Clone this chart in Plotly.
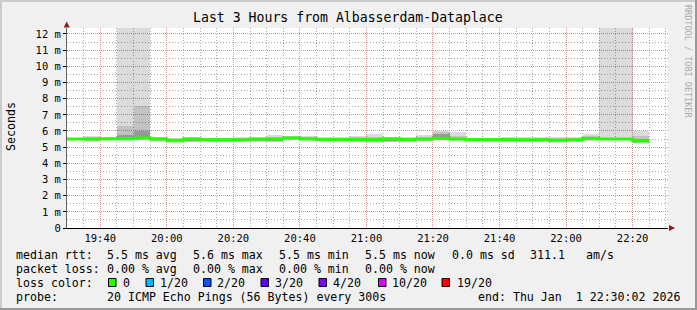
import plotly.graph_objects as go

# ---------------- data (milliseconds) ----------------
bin_times = ["19:30", "19:35", "19:40", "19:45", "19:50", "19:55", "20:00", "20:05", "20:10",
             "20:15", "20:20", "20:25", "20:30", "20:35", "20:40", "20:45", "20:50", "20:55",
             "21:00", "21:05", "21:10", "21:15", "21:20", "21:25", "21:30", "21:35", "21:40",
             "21:45", "21:50", "21:55", "22:00", "22:05", "22:10", "22:15", "22:20"]
last_end = "22:25"

median = [5.50, 5.50, 5.52, 5.52, 5.57, 5.50, 5.42, 5.50, 5.46, 5.46, 5.46, 5.50, 5.50, 5.57,
          5.52, 5.48, 5.48, 5.47, 5.46, 5.52, 5.48, 5.50, 5.55, 5.50, 5.48, 5.48, 5.48, 5.46,
          5.46, 5.43, 5.46, 5.53, 5.50, 5.50, 5.40]
smoke_min = [5.42, 5.30, 5.42, 5.42, 5.45, 5.32, 5.24, 5.30, 5.35, 5.33, 5.32, 5.32, 5.30, 5.45,
             5.40, 5.38, 5.38, 5.35, 5.23, 5.32, 5.30, 5.36, 5.42, 5.40, 5.42, 5.34, 5.34, 5.30,
             5.32, 5.28, 5.30, 5.38, 5.42, 5.42, 5.20]
smoke_lo = [5.45, 5.38, 5.45, 5.45, 5.48, 5.40, 5.30, 5.33, 5.38, 5.38, 5.36, 5.36, 5.33, 5.48,
            5.44, 5.42, 5.42, 5.40, 5.32, 5.34, 5.36, 5.40, 5.46, 5.44, 5.45, 5.36, 5.36, 5.36,
            5.36, 5.34, 5.36, 5.44, 5.46, 5.46, 5.25]
core_lo = [5.47, 5.45, 5.47, 5.48, 5.52, 5.45, 5.36, 5.38, 5.40, 5.40, 5.40, 5.40, 5.36, 5.52,
           5.47, 5.45, 5.45, 5.44, 5.40, 5.36, 5.42, 5.45, 5.50, 5.46, 5.46, 5.38, 5.38, 5.42,
           5.42, 5.38, 5.40, 5.48, 5.48, 5.48, 5.30]
core_hi = [5.53, 5.55, 5.56, 5.75, 6.00, 5.55, 5.48, 5.55, 5.52, 5.52, 5.52, 5.55, 5.55, 5.62,
           5.56, 5.52, 5.52, 5.52, 5.55, 5.55, 5.52, 5.56, 5.80, 5.55, 5.52, 5.52, 5.52, 5.52,
           5.52, 5.50, 5.52, 5.62, 5.54, 5.54, 5.50]
smoke_hi = [5.56, 5.62, 5.58, 6.30, 7.55, 5.60, 5.52, 5.58, 5.55, 5.55, 5.56, 5.58, 5.62, 5.66,
            5.60, 5.56, 5.56, 5.60, 5.65, 5.58, 5.56, 5.64, 5.92, 5.70, 5.55, 5.55, 5.55, 5.58,
            5.56, 5.55, 5.56, 5.72, 5.58, 5.58, 5.70]
smoke_max = [5.58, 5.70, 5.60, 14.0, 14.0, 5.65, 5.55, 5.62, 5.58, 5.58, 5.60, 5.62, 5.77, 5.70,
             5.66, 5.62, 5.62, 5.70, 5.81, 5.62, 5.60, 5.77, 6.02, 5.94, 5.58, 5.58, 5.60, 5.62,
             5.60, 5.60, 5.60, 5.81, 14.0, 14.0, 5.98]

y_tick_vals = [0, 1, 2, 3, 4, 5, 6, 7, 8, 9, 10, 11, 12]
y_tick_text = ["0", "1 m", "2 m", "3 m", "4 m", "5 m", "6 m", "7 m", "8 m", "9 m", "10 m", "11 m", "12 m"]
y_minor_vals = [0.5, 1.5, 2.5, 3.5, 4.5, 5.5, 6.5, 7.5, 8.5, 9.5, 10.5, 11.5]

loss_labels = ["0", "1/20", "2/20", "3/20", "4/20", "10/20", "19/20"]
loss_colors = ["#26ff00", "#00b8ff", "#0059ff", "#5e00ff", "#7e00ff", "#dd00ff", "#ff0000"]

day = "2026-01-01 "
xs = [day + t + ":00" for t in bin_times]
x_line = xs + [day + last_end + ":00"]
y_line = median + [median[-1]]

MONO = "DejaVu Sans Mono"
fig = go.Figure()

def band(lo, hi, color):
    fig.add_trace(go.Bar(
        x=xs, base=lo, y=[h - l for l, h in zip(lo, hi)],
        width=300000, offset=0, marker=dict(color=color, line=dict(width=0)),
        hoverinfo="skip", showlegend=False))

LIGHT = "rgba(0,0,0,0.14)"
MID = "rgba(0,0,0,0.24)"
DARK = "rgba(0,0,0,0.40)"
band(smoke_min, smoke_lo, LIGHT)
band(smoke_lo, core_lo, MID)
band(core_lo, core_hi, DARK)
band(core_hi, smoke_hi, MID)
band(smoke_hi, smoke_max, LIGHT)

fig.add_trace(go.Scatter(x=x_line, y=y_line, mode="lines", line=dict(color=loss_colors[0], width=3, shape="hv"),
                         hoverinfo="skip", showlegend=False))

# ---------------- layout ----------------
W, H = 697, 310
L, R, T, B = 67, 29, 28, 82
PW, PH = W - L - R, H - T - B

def px(x):
    return (x - L) / PW

def py(y):
    return (H - B - y) / PH

anns = []
shapes = []

def txt(x, y, s, size=11.6, color="#000", anchor="left", angle=0):
    anns.append(dict(x=px(x), y=py(y), xref="paper", yref="paper", text=s.replace(" ", "\u00a0"),
                     showarrow=False, xanchor=anchor, yanchor="middle", textangle=angle,
                     borderpad=0, borderwidth=0,
                     font=dict(family=MONO, size=size, color=color)))

# title
txt(348, 18, "Last 3 Hours from Albasserdam-Dataplace", size=13.2, anchor="center")
# y label
txt(11, 127, "Seconds", size=11.6, anchor="center", angle=-90)
# watermark
txt(688, 61, "RRDTOOL / TOBI OETIKER", size=8.5, color="#a9a9a9", anchor="center", angle=90)

# legend lines
y1, y2, y3, y4 = 254.5, 268.5, 282.5, 296.5
txt(16, y1, "median rtt:")
for xx, s in [(107, "5.5 ms avg"), (193, "5.6 ms max"), (279, "5.5 ms min"), (365, "5.5 ms now"),
              (452, "0.0 ms sd"), (530, "311.1"), (586, "am/s")]:
    txt(xx, y1, s)
txt(16, y2, "packet loss:")
for xx, s in [(107, "0.00 % avg"), (193, "0.00 % max"), (279, "0.00 % min"), (365, "0.00 % now")]:
    txt(xx, y2, s)
txt(16, y3, "loss color:")
box_x = [108.5, 146, 203.5, 261, 319, 378.5, 442]
lab_x = [123, 160, 217, 275, 333, 392, 456.5]
for bx, lx, lab, col in zip(box_x, lab_x, loss_labels, loss_colors):
    shapes.append(dict(type="rect", xref="paper", yref="paper", x0=px(bx), x1=px(bx + 7.5),
                       y0=py(y3 - 4), y1=py(y3 + 4), fillcolor=col, line=dict(color="#000", width=1),
                       layer="above"))
    txt(lx, y3, lab)
txt(16, y4, "probe:")
txt(107, y4, "20 ICMP Echo Pings (56 Bytes) every 300s")
txt(478, y4, "end: Thu Jan  1 22:30:02 2026")

# frame (3D border)
for x0, x1, y0, y1, c in [(0, W, 0, 2, "#cbcbcb"), (0, 2, 0, H, "#cbcbcb"),
                          (0, W, H - 2, H, "#999999"), (W - 2, W, 0, H, "#999999")]:
    shapes.append(dict(type="rect", xref="paper", yref="paper", x0=px(x0), x1=px(x1), y0=py(y0), y1=py(y1),
                       fillcolor=c, line=dict(width=0), layer="above"))

# axis arrows
ARROW = "#8b1a1a"
shapes.append(dict(type="path", xref="paper", yref="paper",
                   path=f"M {px(63.7)},{py(27.5)} L {px(69.7)},{py(27.5)} L {px(66.7)},{py(21.5)} Z",
                   fillcolor=ARROW, line=dict(width=0), layer="above"))
shapes.append(dict(type="path", xref="paper", yref="paper",
                   path=f"M {px(669)},{py(225)} L {px(669)},{py(231)} L {px(675)},{py(228)} Z",
                   fillcolor=ARROW, line=dict(width=0), layer="above"))

MAJOR = "#ee8c8c"
MINOR = "#aaaaaa"
DASH = "1px,1px"

fig.update_layout(
    width=W, height=H, autosize=False,
    margin=dict(l=L, r=R, t=T, b=B, pad=0),
    paper_bgcolor="#f0f0f0", plot_bgcolor="#ffffff",
    barmode="overlay", bargap=0, showlegend=False,
    annotations=anns, shapes=shapes,
    xaxis=dict(type="date", range=[day + "19:30:00", day + "22:30:38"],
               tick0=day + "19:40:00", dtick=1200000, tickformat="%H:%M",
               showgrid=True, gridcolor=MAJOR, griddash=DASH, gridwidth=1,
               minor=dict(tickmode="linear", tick0=day + "19:30:00", dtick=300000, showgrid=True,
                          gridcolor=MINOR, griddash="1px,2px", gridwidth=1),
               showline=True, linecolor="#000", linewidth=1, zeroline=False, ticks="",
               tickfont=dict(family=MONO, size=10.5, color="#000"), fixedrange=True),
    yaxis=dict(range=[0, 12.37], tickvals=y_tick_vals, ticktext=y_tick_text,
               showgrid=True, gridcolor=MAJOR, griddash=DASH, gridwidth=1,
               minor=dict(tickmode="array", tickvals=y_minor_vals, showgrid=True,
                          gridcolor=MINOR, griddash="1px,2px", gridwidth=1),
               showline=True, linecolor="#606060", linewidth=1, zeroline=False,
               ticks="outside", ticklen=3, tickcolor="#000",
               tickfont=dict(family=MONO, size=10.5, color="#000"), fixedrange=True),
)

fig.write_html("out.html")
